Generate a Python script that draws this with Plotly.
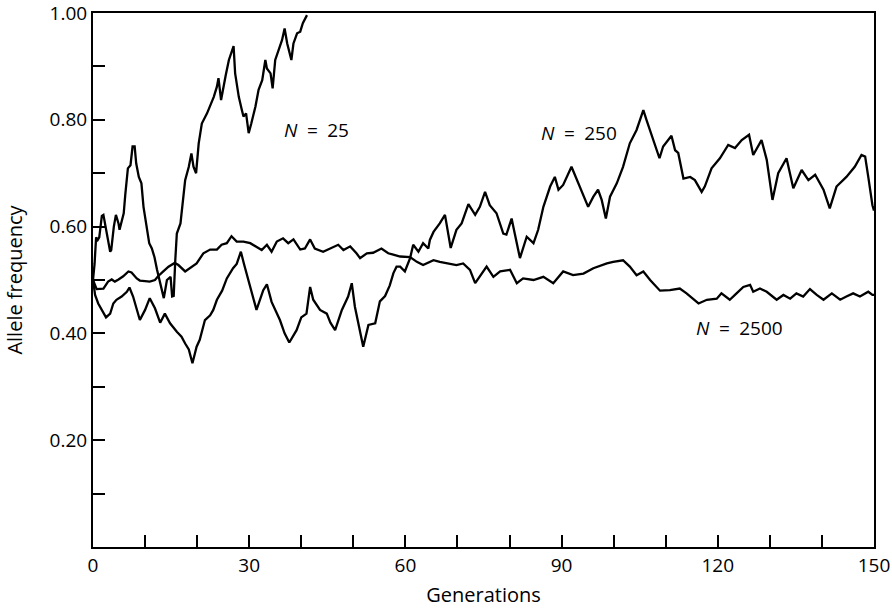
import plotly.graph_objects as go

# ---- data ----
gen_n25 = [0, 0.3, 0.6, 0.9, 1.2, 1.7, 2.0, 2.4, 2.9, 3.3, 3.5, 4.0, 4.4, 4.9, 5.1, 5.9, 6.2, 6.7, 7.2, 7.6,
           8.0, 8.3, 8.8, 9.3, 9.7, 10.2, 10.8, 11.3, 11.8, 12.3, 13.0, 13.6, 14.2, 14.9, 15.2, 15.5,
           15.8, 16.1, 16.8, 17.4, 17.7, 18.4, 18.9, 19.3, 19.8, 20.3, 20.9, 21.9, 22.5, 23.2, 23.8,
           24.1, 24.6, 25.1, 25.5, 26.1, 26.7, 27.0, 27.3, 28.0, 28.6, 28.9, 29.4, 29.9, 30.4, 31.2,
           31.8, 32.5, 33.1, 33.4, 34.1, 34.5, 35.0, 35.5, 36.3, 36.8, 37.3, 38.1, 38.5, 39.2, 39.8,
           40.3, 41.1]
freq_n25 = [0.50, 0.53, 0.58, 0.575, 0.58, 0.62, 0.622, 0.60, 0.58, 0.553, 0.556, 0.60, 0.622, 0.606, 0.594,
            0.625, 0.66, 0.709, 0.715, 0.750, 0.750, 0.718, 0.693, 0.681, 0.637, 0.606, 0.569, 0.559,
            0.543, 0.519, 0.49, 0.466, 0.50, 0.506, 0.469, 0.47, 0.537, 0.587, 0.606, 0.665, 0.687,
            0.712, 0.737, 0.712, 0.700, 0.756, 0.793, 0.812, 0.825, 0.843, 0.862, 0.878, 0.837, 0.868,
            0.884, 0.912, 0.931, 0.938, 0.887, 0.843, 0.818, 0.806, 0.812, 0.775, 0.793, 0.825, 0.856,
            0.874, 0.912, 0.896, 0.887, 0.859, 0.912, 0.925, 0.949, 0.971, 0.943, 0.912, 0.943, 0.962,
            0.965, 0.981, 0.996]

gen_n250 = [0, 0.4, 1.0, 1.7, 2.5, 3.3, 3.9, 4.5, 5.5, 6.5, 7.0, 7.7, 8.5, 9.0, 10.0, 10.9, 11.9, 12.9,
            13.8, 14.8, 16.1, 17.0, 17.7, 18.4, 19.1, 19.9, 20.5, 21.5, 22.5, 23.1, 23.8, 24.8, 25.7,
            26.9, 27.6, 28.4, 29.0, 29.8, 30.8, 31.4, 32.7, 33.4, 34.3, 35.3, 35.9, 36.8, 37.7, 39.1,
            40.0, 41.0, 41.7, 42.3, 43.6, 44.9, 45.6, 46.5, 47.8, 49.0, 49.7, 50.3, 51.2, 51.9, 52.9,
            54.2, 55.1, 56.1, 57.0, 57.7, 58.3, 59.0, 59.9, 60.9, 61.5, 62.5, 63.4, 64.4, 64.7, 65.4,
            66.6, 67.6, 68.7, 69.8, 70.8, 72.1, 73.4, 74.3, 75.3, 76.2, 77.5, 78.8, 79.4, 80.4, 81.0,
            82.0, 83.3, 84.6, 85.5, 86.5, 87.8, 88.7, 89.4, 90.3, 91.9, 93.2, 94.2, 95.1, 96.1, 97.0,
            97.7, 98.5, 99.3, 100.6, 101.8, 103.1, 104.4, 105.7, 106.3, 107.0, 107.9, 108.8, 109.5,
            111.1, 111.8, 112.4, 113.4, 114.7, 115.6, 116.9, 117.5, 118.8, 120.4, 122.0, 123.3, 124.6,
            126.0, 126.8, 128.4, 129.4, 130.5, 131.6, 133.2, 134.5, 136.1, 137.4, 138.7, 140.3, 141.5,
            142.8, 144.7, 146.3, 147.6, 148.3, 148.9, 149.7, 150]
freq_n250 = [0.50, 0.472, 0.456, 0.444, 0.430, 0.437, 0.456, 0.463, 0.469, 0.478, 0.486, 0.469, 0.44,
             0.425, 0.444, 0.466, 0.447, 0.42, 0.437, 0.419, 0.403, 0.394, 0.381, 0.37, 0.344, 0.375,
             0.388, 0.425, 0.434, 0.444, 0.463, 0.48, 0.503, 0.522, 0.53, 0.553, 0.53, 0.503, 0.469,
             0.444, 0.481, 0.492, 0.459, 0.437, 0.425, 0.40, 0.383, 0.406, 0.43, 0.437, 0.487, 0.463,
             0.444, 0.437, 0.42, 0.406, 0.444, 0.469, 0.494, 0.450, 0.41, 0.375, 0.416, 0.419, 0.46,
             0.47, 0.49, 0.513, 0.525, 0.525, 0.516, 0.541, 0.566, 0.553, 0.569, 0.559, 0.575, 0.59,
             0.606, 0.622, 0.56, 0.594, 0.606, 0.642, 0.622, 0.637, 0.665, 0.640, 0.625, 0.587, 0.585,
             0.615, 0.587, 0.541, 0.581, 0.569, 0.594, 0.637, 0.675, 0.693, 0.669, 0.678, 0.712, 0.681,
             0.656, 0.637, 0.656, 0.669, 0.650, 0.615, 0.656, 0.681, 0.712, 0.756, 0.781, 0.818, 0.800,
             0.78, 0.750, 0.728, 0.750, 0.770, 0.743, 0.738, 0.690, 0.693, 0.687, 0.665, 0.675, 0.709,
             0.728, 0.753, 0.747, 0.762, 0.772, 0.734, 0.762, 0.725, 0.650, 0.700, 0.728, 0.672, 0.706,
             0.687, 0.697, 0.669, 0.634, 0.675, 0.693, 0.712, 0.734, 0.731, 0.693, 0.640, 0.63]

gen_n2500 = [0, 0.7, 2.0, 2.9, 3.6, 4.2, 4.9, 5.8, 6.8, 7.4, 8.4, 9.0, 10.0, 10.9, 11.9, 12.5, 13.5,
             14.5, 15.7, 16.4, 17.7, 18.6, 19.9, 21.2, 22.5, 23.8, 24.7, 25.7, 26.6, 27.6, 28.9, 30.2,
             31.1, 32.4, 33.4, 34.3, 35.3, 36.5, 37.5, 38.5, 39.8, 40.7, 41.7, 42.6, 44.2, 45.5, 47.1,
             48.1, 49.4, 50.6, 51.3, 52.6, 53.8, 55.4, 56.7, 57.5, 59.0, 60.9, 62.2, 63.4, 65.4, 66.6,
             67.9, 69.8, 71.1, 72.4, 73.4, 74.3, 75.6, 76.9, 78.2, 80.1, 81.4, 82.6, 84.6, 86.5, 88.4,
             90.3, 92.2, 94.2, 96.1, 98.7, 99.9, 101.8, 103.1, 104.4, 105.7, 107.0, 108.9, 110.8,
             112.7, 114.0, 115.3, 116.3, 117.9, 119.8, 120.7, 122.3, 123.6, 124.9, 126.2, 126.8,
             128.1, 129.4, 131.3, 132.6, 133.9, 135.1, 136.4, 137.7, 139.0, 140.3, 141.9, 143.5,
             144.7, 146.0, 147.3, 148.9, 149.7, 150]
freq_n2500 = [0.50, 0.483, 0.484, 0.497, 0.501, 0.497, 0.501, 0.507, 0.516, 0.514, 0.503, 0.499, 0.498,
              0.497, 0.500, 0.507, 0.516, 0.525, 0.532, 0.528, 0.516, 0.522, 0.531, 0.550, 0.557, 0.557,
              0.566, 0.569, 0.582, 0.572, 0.572, 0.569, 0.563, 0.556, 0.566, 0.553, 0.572, 0.578, 0.569,
              0.576, 0.557, 0.559, 0.576, 0.559, 0.553, 0.559, 0.566, 0.556, 0.563, 0.550, 0.541, 0.550,
              0.551, 0.559, 0.550, 0.548, 0.544, 0.543, 0.534, 0.528, 0.537, 0.534, 0.531, 0.528, 0.531,
              0.519, 0.494, 0.506, 0.525, 0.506, 0.516, 0.519, 0.494, 0.503, 0.500, 0.506, 0.494, 0.516,
              0.509, 0.512, 0.522, 0.531, 0.534, 0.537, 0.525, 0.509, 0.516, 0.500, 0.480, 0.481, 0.484,
              0.475, 0.465, 0.456, 0.463, 0.465, 0.475, 0.463, 0.475, 0.487, 0.491, 0.478, 0.484, 0.478,
              0.463, 0.472, 0.465, 0.475, 0.469, 0.483, 0.472, 0.463, 0.475, 0.463, 0.469, 0.475, 0.469,
              0.478, 0.472, 0.472]

series_names = ["N = 25", "N = 250", "N = 2500"]
label_text = ["<i>N</i>\u2002=\u200225", "<i>N</i>\u2002=\u2002250", "<i>N</i>\u2002=\u20022500"]
label_x = [36.3, 85.6, 115.4]
label_y = [0.78, 0.775, 0.41]

x_tickvals = [0, 10, 20, 30, 40, 50, 60, 70, 80, 90, 100, 110, 120, 130, 140, 150]
x_ticktext = ["0", "", "", "30", "", "", "60", "", "", "90", "", "", "120", "", "", "150"]
y_tickvals = [0.1, 0.2, 0.3, 0.4, 0.5, 0.6, 0.7, 0.8, 0.9, 1.0]
y_ticktext = ["", "0.20", "", "0.40", "", "0.60", "", "0.80", "", "1.00"]

FONT = "'Open Sans', Lato, sans-serif"

fig = go.Figure()
for gx, fy, name in [(gen_n25, freq_n25, series_names[0]),
                     (gen_n250, freq_n250, series_names[1]),
                     (gen_n2500, freq_n2500, series_names[2])]:
    fig.add_trace(go.Scatter(x=gx, y=fy, mode="lines", name=name,
                             line=dict(color="black", width=2.3), showlegend=False))

for t, lx, ly in zip(label_text, label_x, label_y):
    fig.add_annotation(x=lx, y=ly, text=t, showarrow=False, xanchor="left", yanchor="middle",
                       font=dict(family=FONT, size=19, color="black"))

fig.update_layout(
    width=892, height=608,
    margin=dict(l=93, r=18, t=13, b=61, autoexpand=False),
    paper_bgcolor="white", plot_bgcolor="white",
    font=dict(family=FONT, size=18, color="black"),
    xaxis=dict(range=[0, 150], tickmode="array", tickvals=x_tickvals, ticktext=x_ticktext,
               ticks="inside", ticklen=12, tickwidth=2, tickcolor="black",
               showline=True, linecolor="black", linewidth=2, mirror=True,
               showgrid=False, zeroline=False, automargin=False, ticklabeloverflow="allow",
               tickfont=dict(family=FONT, size=19),
               title=dict(text="Generations", font=dict(family=FONT, size=20), standoff=12)),
    yaxis=dict(range=[0, 1.0], tickmode="array", tickvals=y_tickvals, ticktext=y_ticktext,
               ticks="inside", ticklen=12, tickwidth=2, tickcolor="black",
               showline=True, linecolor="black", linewidth=2, mirror=True,
               showgrid=False, zeroline=False, automargin=False, ticklabeloverflow="allow",
               tickfont=dict(family=FONT, size=19),
               title=dict(text="Allele frequency", font=dict(family=FONT, size=20), standoff=22)),
)

fig.write_html("out.html")
